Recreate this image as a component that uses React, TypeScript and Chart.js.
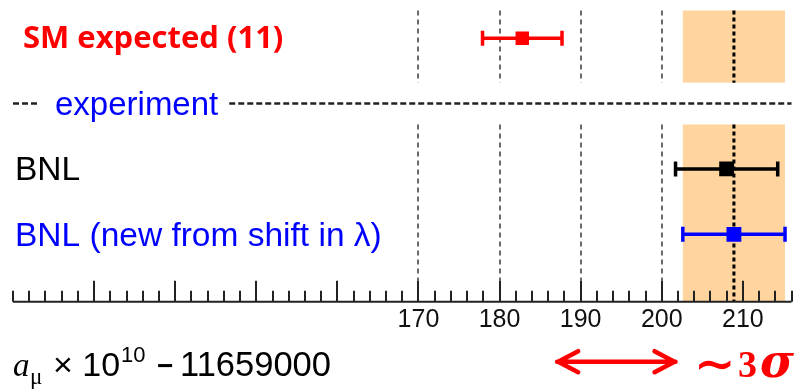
import { useEffect, useRef } from "react";
import { Chart, registerables } from "chart.js";

Chart.register(...registerables);

// ---- data ----
const categories = ["SM expected (11)", "BNL", "BNL (new from shift in λ)"];
const values = [182.8, 208.0, 208.9];
const errors = [4.9, 6.3, 6.3];
const rows = [1, 3, 4];
const separatorLabel = "experiment";
const separatorRow = 2;
const tickLabels = [170, 180, 190, 200, 210];
const majorTicks = [130, 140, 150, 160, 170, 180, 190, 200, 210];
const referenceLines = [170, 180, 190, 200];
const bandIndex = 2; // band = BNL (new) value ± error
const xMin = 120;
const xMax = 216;
const xStep = 2;
const arrowRange = [187.1, 201.7];
const axisTitleParts = ["a", "μ", "× 10", "10", "−", "11659000"];
const sigmaText = ["∼", "3", "σ"];

// ---- styles ----
const colors = ["#ff0000", "#000000", "#0000ff"];
const pointRadii = [9.5, 10.5, 10.5];
const bandColor = "#ffd49e";
const gridGray = "#6a6a6a";

const overlay = {
  id: "overlay",
  beforeDatasetsDraw(chart: any) {
    const ctx = chart.ctx;
    const xs = chart.scales.x;
    const ys = chart.scales.y;
    const a = chart.chartArea;
    const gapTop = ys.getPixelForValue(separatorRow - 0.32);
    const gapBot = ys.getPixelForValue(separatorRow + 0.32);
    ctx.save();

    // band
    const bc = values[bandIndex];
    const be = errors[bandIndex];
    const bx1 = xs.getPixelForValue(bc - be);
    const bx2 = xs.getPixelForValue(bc + be);
    ctx.fillStyle = bandColor;
    ctx.fillRect(bx1, a.top, bx2 - bx1, gapTop - a.top);
    ctx.fillRect(bx1, gapBot, bx2 - bx1, a.bottom - gapBot);

    // reference dashed lines
    ctx.strokeStyle = gridGray;
    ctx.lineWidth = 2;
    ctx.setLineDash([5, 4]);
    for (const v of referenceLines) {
      const px = Math.round(xs.getPixelForValue(v));
      ctx.beginPath();
      ctx.moveTo(px, a.top);
      ctx.lineTo(px, gapTop);
      ctx.moveTo(px, gapBot);
      ctx.lineTo(px, a.bottom - 21);
      ctx.stroke();
    }

    // central dotted line in band
    ctx.strokeStyle = "#000";
    ctx.lineWidth = 3;
    ctx.setLineDash([4, 3]);
    const cx = xs.getPixelForValue(bc);
    ctx.beginPath();
    ctx.moveTo(cx, a.top);
    ctx.lineTo(cx, gapTop);
    ctx.moveTo(cx, gapBot);
    ctx.lineTo(cx, a.bottom);
    ctx.stroke();

    // separator line with label
    const sy = ys.getPixelForValue(separatorRow);
    ctx.strokeStyle = "#222";
    ctx.lineWidth = 2.5;
    ctx.setLineDash([6, 3]);
    ctx.font = "33px 'Liberation Sans', Arial, sans-serif";
    const tx = a.left + 42;
    const tw = ctx.measureText(separatorLabel).width;
    ctx.beginPath();
    ctx.moveTo(a.left, sy);
    ctx.lineTo(tx - 18, sy);
    ctx.moveTo(tx + tw + 11, sy);
    ctx.lineTo(a.right, sy);
    ctx.stroke();
    ctx.setLineDash([]);
    ctx.fillStyle = "#0000ff";
    ctx.textBaseline = "alphabetic";
    ctx.fillText(separatorLabel, tx, sy + 11);

    // row labels
    categories.forEach((c, i) => {
      const py = ys.getPixelForValue(rows[i]);
      ctx.fillStyle = colors[i];
      if (i === 0) {
        ctx.font = "bold 31px 'Open Sans', sans-serif";
        ctx.fillText(c, a.left + 10, py + 10);
      } else {
        ctx.font = "33.5px 'Liberation Sans', Arial, sans-serif";
        ctx.fillText(c, a.left + 2, py + 11.5);
      }
    });

    // error bars
    values.forEach((v, i) => {
      const py = ys.getPixelForValue(rows[i]);
      const x1 = xs.getPixelForValue(v - errors[i]);
      const x2 = xs.getPixelForValue(v + errors[i]);
      ctx.strokeStyle = colors[i];
      ctx.lineWidth = 3.5;
      ctx.beginPath();
      ctx.moveTo(x1, py);
      ctx.lineTo(x2, py);
      ctx.moveTo(x1, py - 7.5);
      ctx.lineTo(x1, py + 7.5);
      ctx.moveTo(x2, py - 7.5);
      ctx.lineTo(x2, py + 7.5);
      ctx.stroke();
    });
    ctx.restore();
  },
  afterDatasetsDraw(chart: any) {
    const ctx = chart.ctx;
    const xs = chart.scales.x;
    const a = chart.chartArea;
    ctx.save();
    // axis line + ticks
    ctx.strokeStyle = "#222";
    ctx.lineWidth = 2;
    ctx.beginPath();
    ctx.moveTo(a.left, a.bottom);
    ctx.lineTo(a.right, a.bottom);
    for (const t of xs.ticks) {
      const px = Math.round(xs.getPixelForValue(t.value));
      const len = majorTicks.includes(t.value) ? 21 : 11;
      ctx.moveTo(px, a.bottom);
      ctx.lineTo(px, a.bottom - len);
    }
    ctx.stroke();

    // axis title
    const base = 376;
    const L = a.left;
    ctx.fillStyle = "#000";
    ctx.textBaseline = "alphabetic";
    ctx.font = "italic 33px 'Liberation Serif', serif";
    ctx.fillText(axisTitleParts[0], L, base);
    ctx.font = "23px 'Liberation Serif', serif";
    ctx.fillText(axisTitleParts[1], L + 17, base + 8);
    ctx.font = "34px 'Liberation Sans', Arial, sans-serif";
    ctx.fillText(axisTitleParts[2], L + 40, base);
    ctx.font = "22px 'Liberation Sans', Arial, sans-serif";
    ctx.fillText(axisTitleParts[3], L + 108, base - 14);
    ctx.font = "bold 28px 'Liberation Sans', Arial, sans-serif";
    ctx.fillText(axisTitleParts[4], L + 144, base - 1.5);
    ctx.font = "34.5px 'Liberation Sans', Arial, sans-serif";
    ctx.fillText(axisTitleParts[5], L + 167, base);

    // arrow
    const ay = 361.7;
    const ax1 = xs.getPixelForValue(arrowRange[0]);
    const ax2 = xs.getPixelForValue(arrowRange[1]);
    ctx.strokeStyle = "#ff0000";
    ctx.lineWidth = 4.5;
    ctx.lineCap = "round";
    ctx.lineJoin = "round";
    ctx.beginPath();
    ctx.moveTo(ax1, ay);
    ctx.lineTo(ax2, ay);
    ctx.moveTo(ax1 + 21, ay - 10.5);
    ctx.lineTo(ax1 + 1, ay);
    ctx.lineTo(ax1 + 21, ay + 10.5);
    ctx.moveTo(ax2 - 21, ay - 10.5);
    ctx.lineTo(ax2 - 1, ay);
    ctx.lineTo(ax2 - 21, ay + 10.5);
    ctx.stroke();

    // ~3σ
    ctx.fillStyle = "#ff0000";
    ctx.font = "bold 50px 'DejaVu Serif', serif";
    ctx.fillText(sigmaText[0], 694, 381);
    ctx.font = "bold 38px 'Liberation Serif', serif";
    ctx.fillText(sigmaText[1], 738, 377);
    ctx.font = "italic bold 46px 'DejaVu Serif', serif";
    ctx.fillText(sigmaText[2], 760, 377);
    ctx.restore();
  },
};

export default function App() {
  const ref = useRef<HTMLCanvasElement | null>(null);
  useEffect(() => {
    if (!ref.current) return;
    const chart = new Chart(ref.current, {
      type: "scatter",
      data: {
        datasets: [
          {
            data: values.map((v, i) => ({ x: v, y: rows[i] })),
            pointStyle: "rect",
            pointRadius: pointRadii,
            pointHoverRadius: pointRadii,
            backgroundColor: colors,
            borderColor: colors,
            borderWidth: 0,
          },
        ],
      },
      options: {
        responsive: false,
        animation: false,
        devicePixelRatio: 1,
        events: [],
        layout: { padding: { left: 13, right: 6.5, top: 10, bottom: 51.9 } },
        plugins: { legend: { display: false }, tooltip: { enabled: false } },
        scales: {
          x: {
            type: "linear",
            min: xMin,
            max: xMax,
            grid: { display: false, drawTicks: false },
            border: { display: false },
            afterFit: (s: any) => {
              s.paddingLeft = 0;
              s.paddingRight = 0;
            },
            ticks: {
              stepSize: xStep,
              autoSkip: false,
              maxRotation: 0,
              minRotation: 0,
              padding: 3.7,
              color: "#111",
              font: { family: "'Liberation Sans', Arial, sans-serif", size: 25 },
              callback: (v: any) => (tickLabels.includes(Number(v)) ? String(v) : ""),
            },
          },
          y: {
            type: "linear",
            reverse: true,
            min: 0.577,
            max: 5.03,
            display: false,
          },
        },
      },
      plugins: [overlay],
    });
    return () => chart.destroy();
  }, []);
  return (
    <div style={{ position: "fixed", left: 0, top: 0, width: 802, height: 391, background: "#fff" }}>
      <canvas ref={ref} width={802} height={391} style={{ width: 802, height: 391, display: "block" }} />
    </div>
  );
}
